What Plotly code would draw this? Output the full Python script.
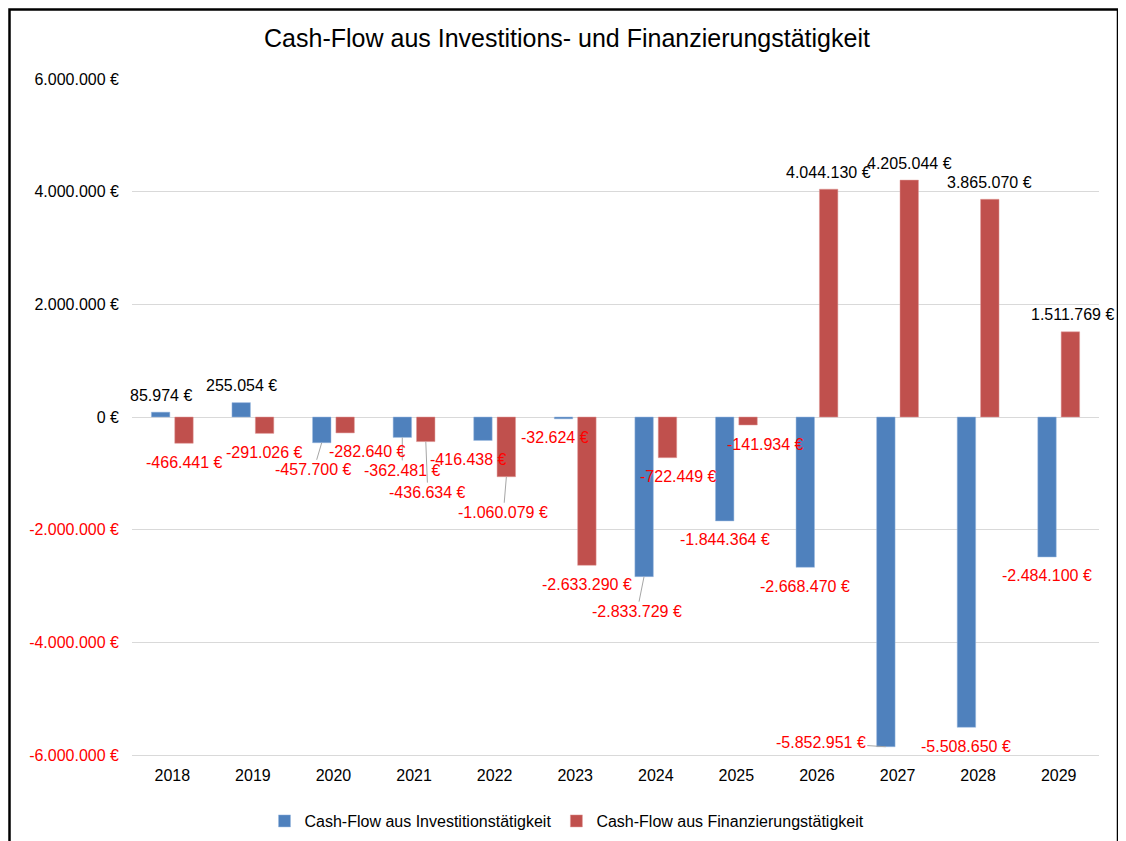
import plotly.graph_objects as go

years = ["2018", "2019", "2020", "2021", "2022", "2023",
         "2024", "2025", "2026", "2027", "2028", "2029"]
invest = [85974, 255054, -457700, -362481, -416438, -32624,
          -2833729, -1844364, -2668470, -5852951, -5508650, -2484100]
finance = [-466441, -291026, -282640, -436634, -1060079, -2633290,
           -722449, -141934, 4044130, 4205044, 3865070, 1511769]

y_ticks = [6000000, 4000000, 2000000, 0, -2000000, -4000000, -6000000]

# label offsets in px (dx, dy, leader line) as Excel placed them
invest_lbl = [(0, 0, False), (0, 0, False), (-8, 27, True), (0, 33, True),
              (-14, 0, False), (-8, 0, False), (-7, 35, True), (0, 0, False),
              (0, 0, False), (-65, -4, True), (0, 0, False), (0, 0, False)]
finance_lbl = [(0, 0, False), (0, 0, False), (22, 0, False), (2, 51, True),
               (-3, 36, True), (0, 0, False), (11, 0, False), (17, 0, False),
               (0, 0, False), (0, 0, False), (0, 0, False), (2, 0, False)]

BLUE = "#4f81bd"
RED = "#c0504d"
FONT = "Liberation Sans, Arial, sans-serif"

# the page puts the plot 8px in from the top-left corner
W, H = 1118, 833
L, R, T, B = 124, 27, 71, 86
PW, PH = W - L - R, H - T - B


def eur(v):
    return f"{v:,}".replace(",", ".") + " €"


fig = go.Figure()
fig.add_trace(go.Bar(x=years, y=invest, name="Cash-Flow aus Investitionstätigkeit",
                     marker=dict(color=BLUE, line=dict(color="#9dbbe0", width=0.5))))
fig.add_trace(go.Bar(x=years, y=finance, name="Cash-Flow aus Finanzierungstätigkeit",
                     marker=dict(color=RED, line=dict(color="#e09a98", width=0.5))))

annotations = []
for values, offsets, shift in ((invest, invest_lbl, -11.75), (finance, finance_lbl, 11.75)):
    for i, (v, (dx, dy, leader)) in enumerate(zip(values, offsets)):
        color = "black" if v >= 0 else "red"
        # category axis: annotation x given as category index
        base = dict(x=i, y=v, text=eur(v), xshift=shift,
                    font=dict(family=FONT, size=16, color=color))
        if leader:
            annotations.append(dict(base, showarrow=True, ax=dx, ay=dy, arrowhead=0,
                                    arrowwidth=1, arrowcolor="#a6a6a6", standoff=0))
        else:
            annotations.append(dict(base, showarrow=False, xshift=shift + dx,
                                    yshift=(17 if v >= 0 else -19) - dy))

tick_text = []
for t in y_ticks:
    if t < 0:
        tick_text.append(f"<span style='color:red'>{eur(t)}</span>")
    else:
        tick_text.append(eur(t))

fig.update_layout(
    width=W, height=H,
    paper_bgcolor="white", plot_bgcolor="white",
    font=dict(family=FONT, size=16, color="black"),
    title=dict(text="Cash-Flow aus Investitions- und Finanzierungstätigkeit",
               x=0.5, xref="container", xanchor="center",
               y=1 - 30 / H, yref="container", yanchor="middle",
               font=dict(family=FONT, size=25, color="black")),
    margin=dict(l=L, r=R, t=T, b=B),
    barmode="group", bargap=0.42, bargroupgap=0.21,
    xaxis=dict(type="category", range=[-0.5, len(years) - 0.5], showgrid=False,
               showline=True, linecolor="#d9d9d9", ticks="", ticklabelstandoff=6,
               tickfont=dict(size=16)),
    yaxis=dict(range=[-6000000, 6000000], tickvals=y_ticks, ticktext=tick_text,
               showgrid=True, gridcolor="#d9d9d9", gridwidth=1,
               zeroline=True, zerolinecolor="#d9d9d9", zerolinewidth=1,
               ticks="", ticklabelstandoff=12, tickfont=dict(size=16)),
    legend=dict(orientation="h", xref="container", x=0.5, xanchor="center",
                yref="container", y=20 / H, yanchor="middle",
                font=dict(size=16), itemwidth=30),
    annotations=annotations,
    shapes=[dict(type="rect", xref="paper", yref="paper",
                 x0=(1.5 - L) / PW, x1=(1110 - L) / PW,
                 y0=(PH + T - 900) / PH, y1=(PH + T - 1.5) / PH,
                 line=dict(color="black", width=2.5), layer="above")],
)

fig.write_html("out.html")
